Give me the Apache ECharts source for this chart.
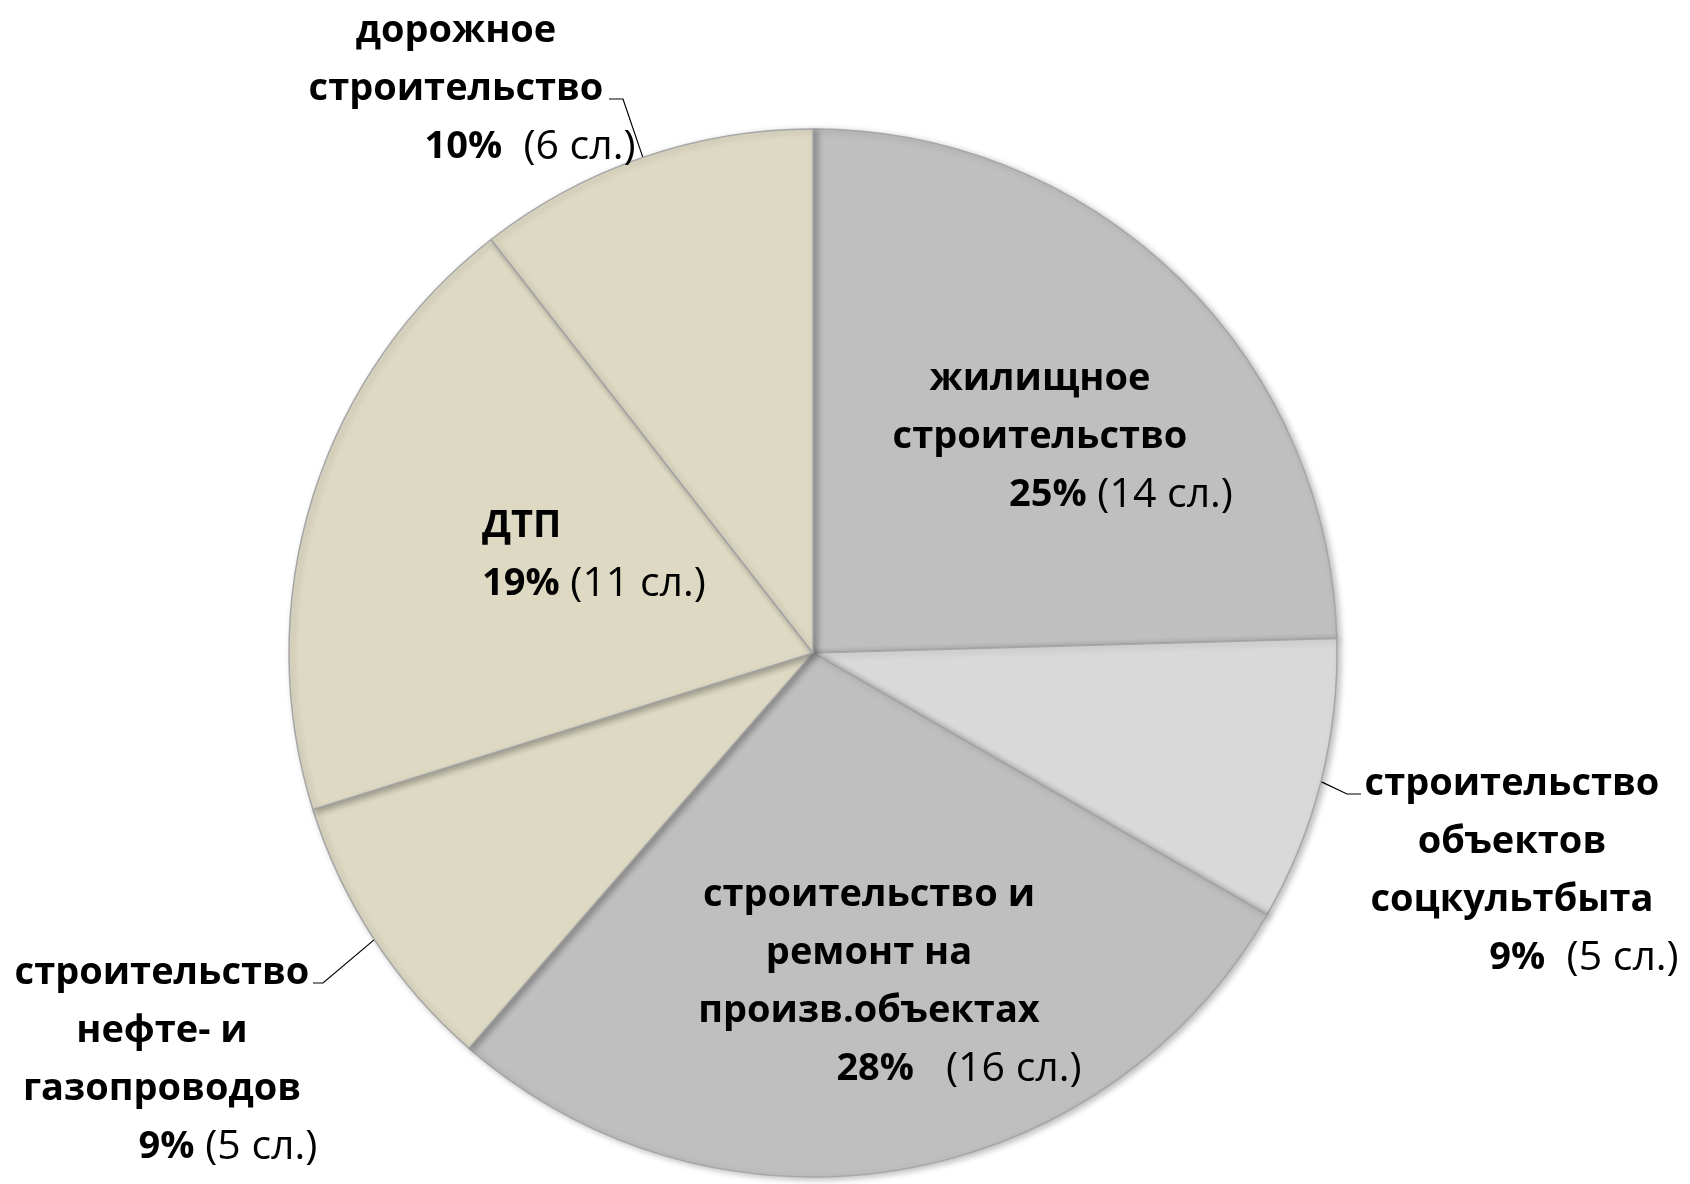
<!DOCTYPE html>
<html><head><meta charset="utf-8">
<script src="https://cdn.jsdelivr.net/npm/echarts@6/dist/echarts.min.js"></script>
<style>html,body{margin:0;padding:0;background:#fff}#c{width:1690px;height:1184px}</style>
</head><body><div id="c"></div>
<script>
// Data
const categories = [
  'жилищное\nстроительство',
  'строительство\nобъектов\nсоцкультбыта',
  'строительство и\nремонт на\nпроизв.объектах',
  'строительство\nнефте- и\nгазопроводов',
  'ДТП',
  'дорожное\nстроительство'
];
const cases = [14, 5, 16, 5, 11, 6];
const percents = ['25%', '9%', '28%', '9%', '19%', '10%'];

// Styling / layout (not data)
const colors = ['#bfbfbf', '#d9d9d9', '#bfbfbf', '#ddd9c3', '#ddd9c3', '#ddd9c3'];
const outside = [false, true, false, true, false, true];
const labelPos = [ // label block anchor [x, y, align]
  [1040, 437, 'center'],
  [1512, 871, 'center'],
  [869, 982, 'center'],
  [162, 1060, 'center'],
  [482, 555, 'left'],
  [456, 89, 'center']
];
// label line bend and end points for outside labels
const linePts = [null, [[1347, 794], [1361, 794]], null, [[323, 983], [313, 983]], null, [[623, 99], [609, 99]]];
const lastPad = [162, 144, 180, 132, 0, 148];
const gap = [' ', '  ', '   ', ' ', ' ', '  '];

const FONT = '"Open Sans", sans-serif';
const FS = 38;
const FC = 41;
const data = categories.map((name, i) => ({
  name: name,
  value: cases[i],
  itemStyle: { color: colors[i] },
  label: {
    position: outside[i] ? 'outside' : 'inside',
    overflow: 'none',
    formatter: '{b|' + name + '}\n{p|' + percents[i] + '}{c|' + gap[i] + '(' + cases[i] + ' сл.)}',
    rich: {
      b: { fontFamily: FONT, fontSize: FS, fontWeight: 'bold', color: '#000', lineHeight: 58 },
      p: { fontFamily: FONT, fontSize: FS, fontWeight: 'bold', color: '#000', lineHeight: 58, padding: [0, 0, 0, lastPad[i]] },
      c: { fontFamily: FONT, fontSize: FC, fontWeight: 'normal', color: '#000', lineHeight: 58 }
    }
  },
  labelLine: { show: outside[i], lineStyle: { color: '#000', width: 1.2 }, length: 15, length2: 15 }
}));

const chart = echarts.init(document.getElementById('c'), null, { renderer: 'canvas' });
chart.setOption({
  animation: false,
  backgroundColor: '#fff',
  series: [{
    type: 'pie',
    center: [813, 653],
    radius: 524,
    startAngle: 90,
    clockwise: true,
    data: data,
    itemStyle: { borderColor: '#a6a6a6', borderWidth: 1.5, shadowBlur: 6, shadowColor: 'rgba(0,0,0,0.25)', shadowOffsetX: 3, shadowOffsetY: 2 },
    label: { show: true, overflow: 'none' },
    emphasis: { disabled: true },
    labelLayout: function (params) {
      const i = params.dataIndex;
      const p = labelPos[i];
      const out = { x: p[0], y: p[1], align: p[2], verticalAlign: 'middle' };
      if (linePts[i] && params.labelLinePoints) {
        out.labelLinePoints = [params.labelLinePoints[0], linePts[i][0], linePts[i][1]];
      }
      return out;
    }
  }]
});
</script></body></html>
